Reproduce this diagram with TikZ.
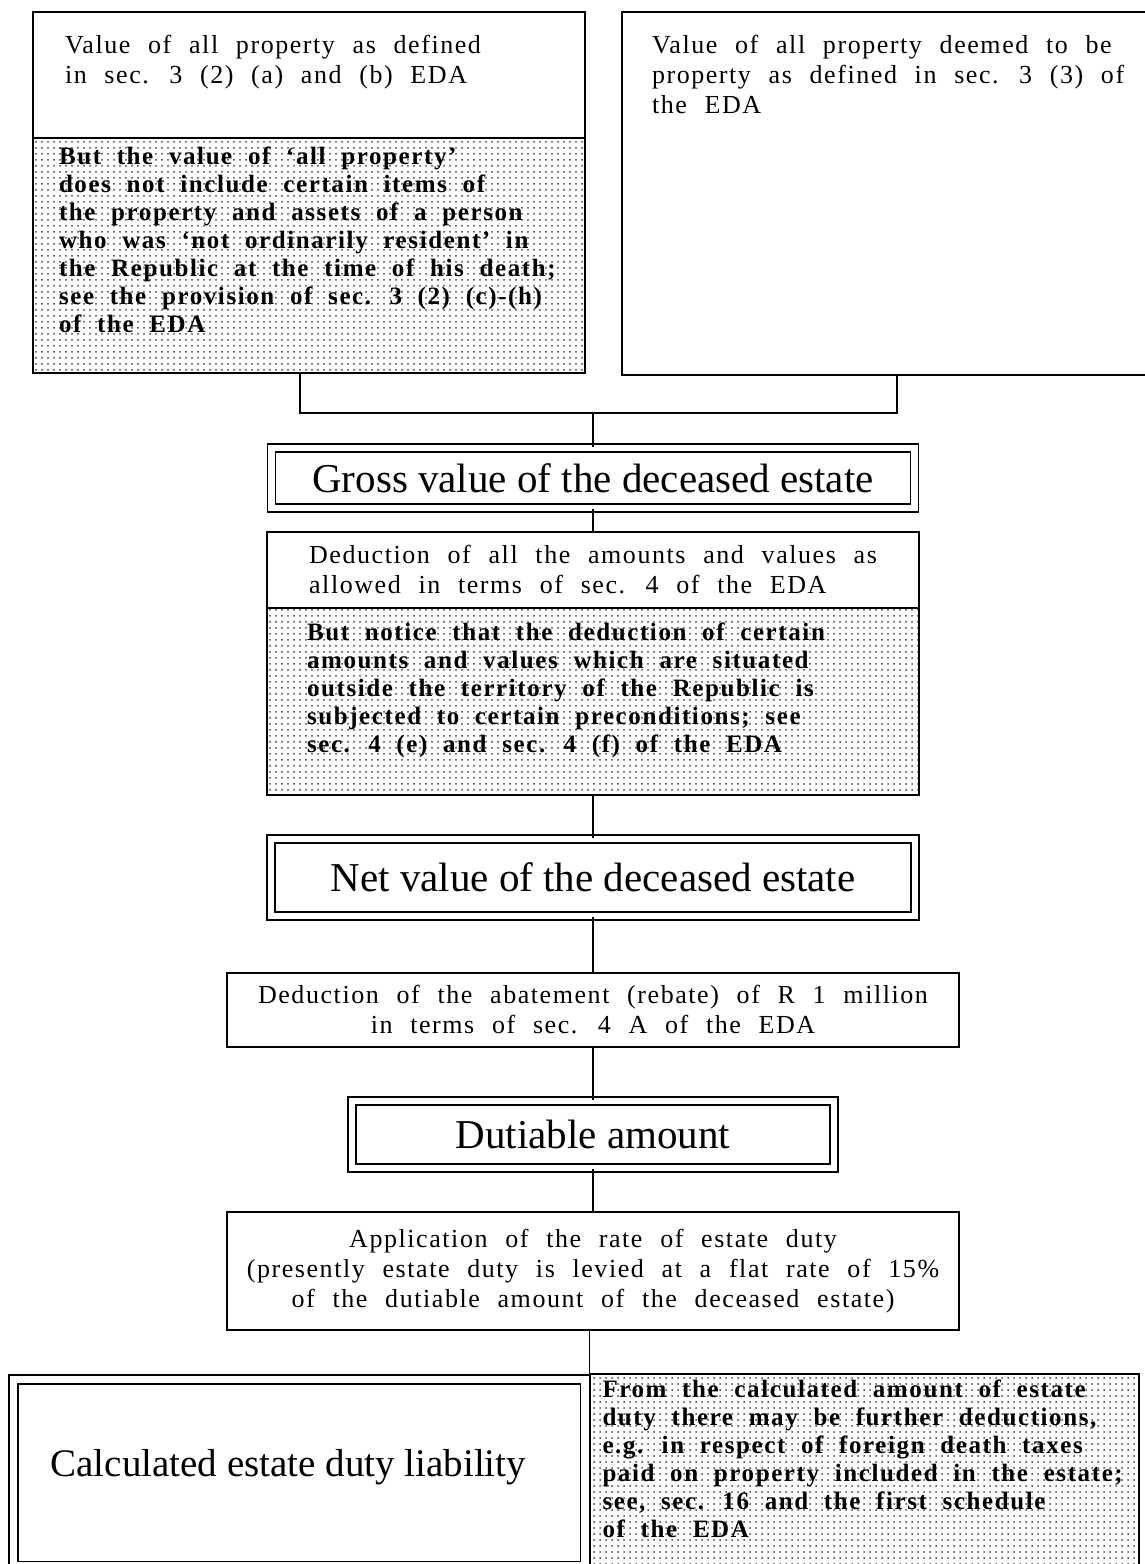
\documentclass[tikz,border=0pt]{standalone}
\usepackage{fontspec}
\setmainfont{Liberation Serif}
\newfontfamily\bodyfont{Liberation Serif}[LetterSpace=6,WordSpace=2.2]
\newfontfamily\notefont{Liberation Serif}[LetterSpace=6.4,WordSpace=2]
\usetikzlibrary{patterns}
\tikzset{
  box/.style={draw, rectangle, line width=0.6pt, inner sep=0pt, align=left, font=\bodyfont\fontsize{13}{15}\selectfont},
  notebox/.style={box, pattern=dots, pattern color=black!75, font=\notefont\bfseries\fontsize{12.5}{14}\selectfont},
  headbox/.style={draw, rectangle, double, double distance=3.4pt, line width=0.6pt, inner sep=0pt, font=\fontsize{20.5}{24}\selectfont},
  link/.style={line width=0.6pt}
}

\begin{document}
\begin{tikzpicture}[x=0.5pt,y=-0.5pt]
\useasboundingbox (0,0) rectangle (1145,1564);

\node[box,minimum width=276pt,minimum height=63pt] (propA) at (309,75) {\parbox[c][40pt][t]{244pt}{\raggedright Value of all property as defined\\in sec. 3 (2) (a) and (b) EDA}};
\node[notebox,minimum width=276pt,minimum height=117.5pt] (propAnote) at (309,255.5) {\parbox[c][108.5pt][t]{250pt}{\raggedright But the value of ‘all property’\\does not include certain items of\\the property and assets of a person\\who was ‘not ordinarily resident’ in\\the Republic at the time of his death;\\see the provision of sec. 3 (2) (c)-(h)\\of the EDA}};
\node[box,minimum width=274pt,minimum height=181.5pt] (propB) at (896,193.5) {\parbox[c][158.5pt][t]{244pt}{\raggedright Value of all property deemed to be\\property as defined in sec. 3 (3) of\\the EDA}};

\coordinate (brL) at (300,413);
\coordinate (join) at (593,413);
\coordinate (brR) at (897,413);

\node[headbox,minimum width=321.5pt,minimum height=30pt] (gross) at (593,478) {Gross value of the deceased estate};
\node[box,minimum width=326pt,minimum height=38pt] (deduct) at (593,570) {Deduction of all the amounts and values as\\allowed in terms of sec. 4 of the EDA};
\node[notebox,minimum width=326pt,minimum height=93.5pt] (deductnote) at (593,701.5) {\parbox[c][78.5pt][t]{286pt}{\raggedright But notice that the deduction of certain\\amounts and values which are situated\\outside the territory of the Republic is\\subjected to certain preconditions; see\\sec. 4 (e) and sec. 4 (f) of the EDA}};
\node[headbox,minimum width=322pt,minimum height=38.5pt] (net) at (593,877.5) {Net value of the deceased estate};
\node[box,align=center,minimum width=366pt,minimum height=37pt] (abate) at (593,1010) {Deduction of the abatement (rebate) of R 1 million\\in terms of sec. 4 A of the EDA};
\node[headbox,minimum width=241pt,minimum height=33.5pt] (duty) at (593,1134.5) {Dutiable amount};
\node[box,align=center,minimum width=366pt,minimum height=59pt] (apply) at (593,1271) {Application of the rate of estate duty\\(presently estate duty is levied at a flat rate of 15\%\\of the dutiable amount of the deceased estate)};
\node[headbox,double distance=3.9pt,minimum width=285.75pt,minimum height=93.25pt,font=\fontsize{19.5}{24}\selectfont] (calc) at (299.25,1472.75) {\raisebox{10pt}{Calculated estate duty liability}\hspace*{11pt}};
\node[notebox,minimum width=274.5pt,minimum height=98pt] (calcnote) at (864.5,1472) {\parbox[c][92pt][t]{262pt}{\raggedright From the calculated amount of estate\\duty there may be further deductions,\\e.g. in respect of foreign death taxes\\paid on property included in the estate;\\see, sec. 16 and the first schedule\\of the EDA}};

\draw[link] (propAnote.south -| brL) -- (brL) -- (brR) -- (propB.south -| brR);
\draw[link] (join) -- (gross);
\draw[link] (gross) -- (deduct);
\draw[link] (deductnote) -- (net);
\draw[link] (net) -- (abate);
\draw[link] (abate) -- (duty);
\draw[link] (duty) -- (apply);
\draw[link] (apply.south -| calcnote.west) -- (calcnote.north west);
\end{tikzpicture}
\end{document}
